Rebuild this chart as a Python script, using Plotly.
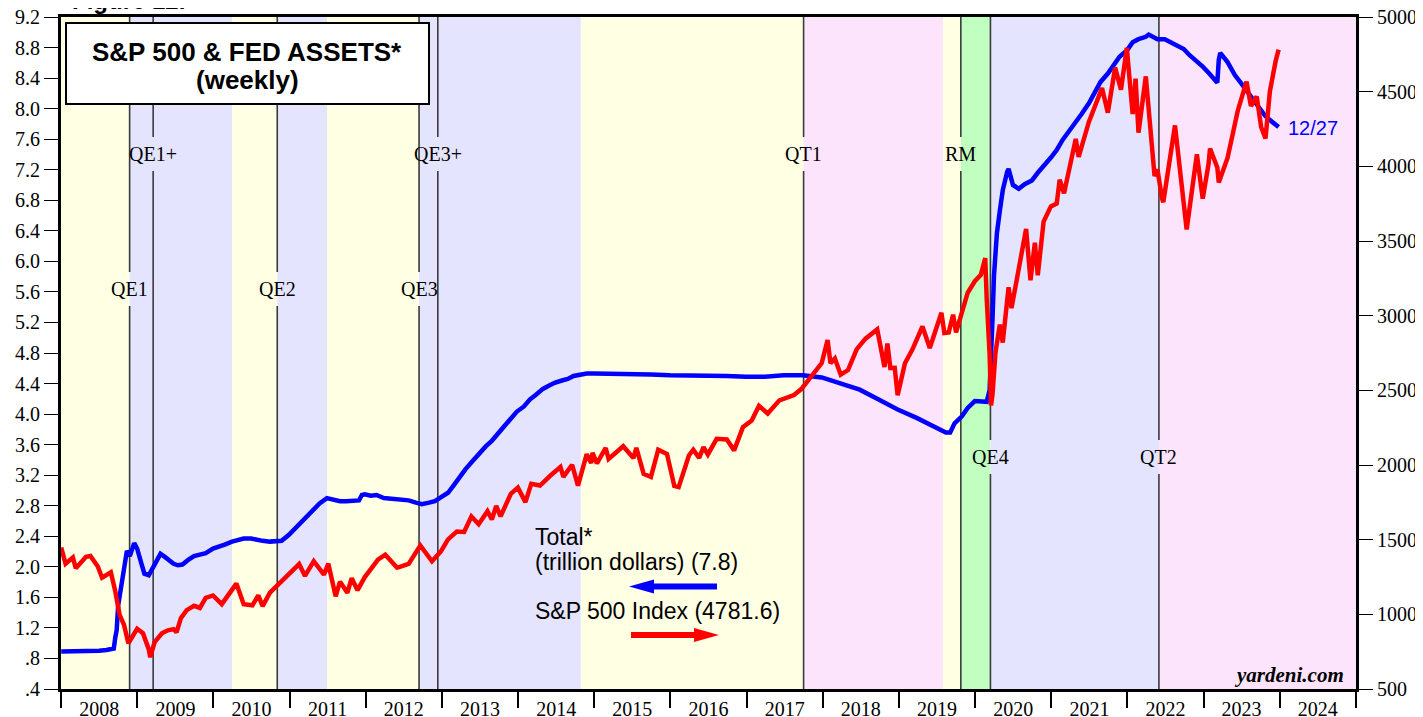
import plotly.graph_objects as go

# ---------------- DATA ----------------
fed_dates = [
    "2008-01-02", "2008-02-06", "2008-03-05", "2008-04-02", "2008-05-07", "2008-06-04", "2008-07-02",
    "2008-08-06", "2008-09-10", "2008-09-17", "2008-09-24", "2008-10-01", "2008-10-15", "2008-10-29",
    "2008-11-12", "2008-11-26", "2008-12-17", "2008-12-31",
    "2009-01-21", "2009-02-04", "2009-02-25", "2009-03-18", "2009-04-01", "2009-04-22", "2009-05-13",
    "2009-06-03", "2009-06-24", "2009-07-15", "2009-08-05", "2009-09-02", "2009-09-30", "2009-10-28",
    "2009-11-25", "2009-12-30",
    "2010-01-27", "2010-02-24", "2010-03-31", "2010-04-28", "2010-05-26", "2010-06-30", "2010-07-28",
    "2010-08-25", "2010-09-29", "2010-10-27", "2010-11-24", "2010-12-29",
    "2011-01-26", "2011-02-23", "2011-03-30", "2011-04-27", "2011-05-25", "2011-06-29", "2011-07-27",
    "2011-08-31", "2011-09-28", "2011-10-26", "2011-11-30", "2011-12-14", "2011-12-28",
    "2012-01-25", "2012-02-22", "2012-03-28", "2012-04-25", "2012-05-30", "2012-06-27", "2012-07-25",
    "2012-08-29", "2012-09-26", "2012-10-31", "2012-11-28", "2012-12-26",
    "2013-01-30", "2013-02-27", "2013-03-27", "2013-04-24", "2013-05-29", "2013-06-26", "2013-07-31",
    "2013-08-28", "2013-09-25", "2013-10-30", "2013-11-27", "2013-12-25",
    "2014-01-29", "2014-02-26", "2014-03-26", "2014-04-30", "2014-05-28", "2014-06-25", "2014-07-30",
    "2014-08-27", "2014-09-24", "2014-10-29", "2014-11-26", "2014-12-31",
    "2015-03-25", "2015-06-24", "2015-09-30", "2015-12-30",
    "2016-03-30", "2016-06-29", "2016-09-28", "2016-12-28",
    "2017-03-29", "2017-06-28", "2017-09-27", "2017-12-27",
    "2018-03-28", "2018-06-27", "2018-09-26", "2018-12-26",
    "2019-03-27", "2019-06-26", "2019-08-14", "2019-09-04", "2019-09-25", "2019-10-30", "2019-11-27",
    "2019-12-31",
    "2020-01-29", "2020-02-26", "2020-03-11", "2020-03-18", "2020-03-25", "2020-04-01", "2020-04-15",
    "2020-04-29", "2020-05-13", "2020-06-03", "2020-06-10", "2020-07-01", "2020-07-29", "2020-08-26",
    "2020-09-30", "2020-10-28", "2020-11-25", "2020-12-30",
    "2021-01-27", "2021-02-24", "2021-03-31", "2021-04-28", "2021-05-26", "2021-06-30", "2021-07-28",
    "2021-08-25", "2021-09-29", "2021-10-27", "2021-11-24", "2021-12-29",
    "2022-01-26", "2022-02-23", "2022-03-30", "2022-04-13", "2022-05-25", "2022-06-29", "2022-07-27",
    "2022-08-31", "2022-09-28", "2022-10-26", "2022-11-30", "2022-12-28",
    "2023-01-25", "2023-02-22", "2023-03-08", "2023-03-15", "2023-03-22", "2023-04-26", "2023-05-31",
    "2023-06-28", "2023-07-26", "2023-08-30", "2023-09-27", "2023-10-25", "2023-11-29", "2023-12-27",
]
fed_values = [
    0.89, 0.89, 0.89, 0.89, 0.89, 0.90, 0.90,
    0.91, 0.93, 1.07, 1.17, 1.49, 1.77, 1.97,
    2.21, 2.14, 2.31, 2.24,
    2.04, 1.91, 1.89, 1.99, 2.07, 2.17, 2.13,
    2.09, 2.04, 2.02, 2.03, 2.09, 2.14, 2.16,
    2.18, 2.24,
    2.26, 2.29, 2.33, 2.35, 2.37, 2.37, 2.35,
    2.34, 2.33, 2.33, 2.34, 2.42,
    2.50, 2.59, 2.68, 2.76, 2.83, 2.90, 2.88,
    2.86, 2.86, 2.86, 2.87, 2.94, 2.95,
    2.93, 2.94, 2.90, 2.89, 2.88, 2.88, 2.87,
    2.84, 2.82, 2.84, 2.86, 2.91,
    2.97, 3.07, 3.18, 3.28, 3.39, 3.48, 3.58,
    3.65, 3.74, 3.85, 3.93, 4.03,
    4.10, 4.19, 4.25, 4.33, 4.37, 4.41, 4.44,
    4.46, 4.50, 4.52, 4.53, 4.53,
    4.53, 4.52, 4.52, 4.51,
    4.51, 4.50, 4.50, 4.49,
    4.49, 4.51, 4.51, 4.48,
    4.40, 4.32, 4.19, 4.06,
    3.95, 3.83, 3.76, 3.76, 3.88, 3.97, 4.08,
    4.17,
    4.16, 4.16, 4.31, 4.67, 5.25, 5.81, 6.37,
    6.66, 6.93, 7.17, 7.21, 7.00, 6.95, 7.01,
    7.06, 7.16, 7.24, 7.36,
    7.46, 7.59, 7.72, 7.82, 7.93, 8.07, 8.22,
    8.35, 8.46, 8.56, 8.68, 8.76,
    8.87, 8.91, 8.94, 8.97, 8.91, 8.91, 8.87,
    8.83, 8.78, 8.70, 8.62, 8.55,
    8.47, 8.39, 8.34, 8.64, 8.73, 8.61, 8.44,
    8.34, 8.24, 8.12, 8.02, 7.90, 7.82, 7.76,
]

sp_dates = [
    "2008-01-02", "2008-01-23", "2008-02-27", "2008-03-12", "2008-04-30", "2008-05-21", "2008-06-25",
    "2008-07-16", "2008-08-27", "2008-09-17", "2008-10-08", "2008-10-29", "2008-11-19", "2008-12-31",
    "2009-01-28", "2009-02-25", "2009-03-04", "2009-03-25", "2009-04-29", "2009-05-27", "2009-06-24",
    "2009-07-08", "2009-07-29", "2009-08-26", "2009-09-30", "2009-10-28", "2009-11-25", "2009-12-30",
    "2010-02-10", "2010-03-31", "2010-04-21", "2010-05-26", "2010-07-07", "2010-08-04", "2010-08-25",
    "2010-09-29", "2010-10-27", "2010-12-29",
    "2011-02-16", "2011-03-16", "2011-04-27", "2011-06-15", "2011-07-06", "2011-08-10", "2011-08-31",
    "2011-10-05", "2011-10-26", "2011-11-23", "2011-12-28",
    "2012-02-29", "2012-04-04", "2012-05-30", "2012-06-06", "2012-07-25", "2012-09-19", "2012-11-14",
    "2012-12-26",
    "2013-01-30", "2013-03-13", "2013-04-17", "2013-05-22", "2013-06-26", "2013-08-07", "2013-08-28",
    "2013-09-18", "2013-10-09", "2013-11-27", "2013-12-31",
    "2014-02-05", "2014-03-05", "2014-04-16", "2014-06-04", "2014-07-23", "2014-08-06", "2014-09-17",
    "2014-10-15", "2014-11-26", "2014-12-17", "2014-12-24",
    "2015-01-14", "2015-02-25", "2015-03-11", "2015-05-20", "2015-07-08", "2015-07-22", "2015-08-26",
    "2015-09-30", "2015-11-04", "2015-12-16",
    "2016-01-20", "2016-02-10", "2016-03-30", "2016-04-20", "2016-05-18", "2016-06-08", "2016-06-29",
    "2016-08-10", "2016-09-28", "2016-11-02", "2016-12-14",
    "2017-01-25", "2017-03-01", "2017-04-12", "2017-06-07", "2017-08-16", "2017-09-20", "2017-11-08",
    "2017-12-27",
    "2018-01-24", "2018-02-07", "2018-02-28", "2018-03-28", "2018-05-02", "2018-06-13", "2018-07-25",
    "2018-09-19", "2018-10-24", "2018-11-07", "2018-11-21", "2018-12-12", "2018-12-26",
    "2019-01-30", "2019-03-06", "2019-04-24", "2019-05-29", "2019-07-24", "2019-08-07", "2019-08-28",
    "2019-09-18", "2019-10-02", "2019-11-27", "2019-12-31",
    "2020-01-29", "2020-02-19", "2020-02-26", "2020-03-11", "2020-03-18", "2020-03-25", "2020-04-08",
    "2020-04-29", "2020-05-13", "2020-06-10", "2020-06-24", "2020-07-22", "2020-09-02", "2020-09-23",
    "2020-10-14", "2020-10-28", "2020-11-25", "2020-12-30",
    "2021-01-27", "2021-02-10", "2021-03-03", "2021-04-28", "2021-05-12", "2021-06-30", "2021-07-28",
    "2021-09-01", "2021-09-29", "2021-11-03", "2021-12-01", "2021-12-29",
    "2022-01-26", "2022-02-09", "2022-02-23", "2022-03-30", "2022-05-11", "2022-05-25", "2022-06-15",
    "2022-06-22", "2022-08-17", "2022-09-28", "2022-10-12", "2022-11-30", "2022-12-28",
    "2023-01-25", "2023-02-01", "2023-03-08", "2023-03-15", "2023-04-26", "2023-06-14", "2023-07-26",
    "2023-08-16", "2023-09-13", "2023-10-04", "2023-10-25", "2023-11-15", "2023-12-13", "2023-12-27",
]
sp_values = [
    1447.2, 1338.6, 1380.0, 1308.8, 1385.6, 1390.7, 1322.0,
    1245.4, 1281.7, 1156.4, 996.2, 930.1, 806.6, 903.3,
    874.1, 764.9, 712.9, 813.9, 873.6, 893.1, 900.9,
    879.6, 975.2, 1028.1, 1057.1, 1042.6, 1110.6, 1126.4,
    1068.1, 1169.4, 1205.9, 1067.9, 1060.3, 1127.2, 1055.3,
    1144.7, 1182.5, 1259.8,
    1336.3, 1256.9, 1355.7, 1265.4, 1339.2, 1120.8, 1218.9,
    1144.0, 1242.0, 1161.8, 1249.6,
    1365.7, 1399.0, 1313.3, 1315.1, 1337.9, 1461.1, 1355.5,
    1419.8,
    1502.0, 1554.5, 1552.0, 1655.4, 1603.3, 1690.9, 1635.0,
    1725.5, 1656.4, 1807.2, 1848.4,
    1751.6, 1873.8, 1862.3, 1927.9, 1987.0, 1920.2, 2001.6,
    1862.5, 2072.8, 2012.9, 2081.9,
    2011.3, 2113.9, 2040.2, 2125.9, 2046.7, 2114.2, 1940.5,
    1920.0, 2102.3, 2073.1,
    1859.3, 1851.9, 2063.9, 2102.4, 2047.6, 2119.1, 2070.8,
    2175.5, 2171.4, 2097.9, 2253.3,
    2298.4, 2396.0, 2344.9, 2433.1, 2468.1, 2508.2, 2594.4,
    2682.6,
    2837.5, 2681.7, 2713.8, 2605.0, 2635.7, 2775.6, 2846.1,
    2908.0, 2656.1, 2813.9, 2649.9, 2651.1, 2467.7,
    2681.1, 2771.5, 2927.3, 2783.0, 3019.6, 2884.0, 2887.9,
    3006.7, 2887.6, 3153.6, 3230.8,
    3273.4, 3386.2, 3116.4, 2741.4, 2398.1, 2475.6, 2750.0,
    2939.5, 2820.0, 3190.1, 3050.3, 3276.0, 3580.8, 3236.9,
    3488.7, 3271.0, 3629.7, 3732.0,
    3750.8, 3909.9, 3819.7, 4183.2, 4063.0, 4297.5, 4400.6,
    4524.1, 4359.5, 4660.6, 4513.0, 4793.1,
    4349.9, 4587.2, 4225.5, 4602.5, 3935.2, 3978.7, 3790.0,
    3759.9, 4274.0, 3719.0, 3577.0, 4080.1, 3783.2,
    4016.2, 4119.2, 3992.0, 3891.9, 4056.0, 4372.6, 4566.8,
    4404.3, 4467.4, 4263.8, 4186.8, 4502.9, 4707.1, 4781.6,
]

# policy regimes (background shading)
region_starts = ["2008-01-01", "2008-11-25", "2010-04-01", "2010-11-03", "2011-06-30", "2012-09-13",
                 "2014-10-29", "2017-10-01", "2019-08-01", "2019-10-25", "2020-03-15", "2022-06-01"]
region_ends = ["2008-11-25", "2010-04-01", "2010-11-03", "2011-06-30", "2012-09-13", "2014-10-29",
               "2017-10-01", "2019-08-01", "2019-10-25", "2020-03-15", "2022-06-01", "2025-01-01"]
region_kinds = ["none", "qe", "none", "qe", "none", "qe", "none", "qt", "none", "rm", "qe", "qt"]

# policy events
event_names = ["QE1", "QE1+", "QE2", "QE3", "QE3+", "QT1", "RM", "QE4", "QT2"]
event_dates = ["2008-11-25", "2009-03-18", "2010-11-03", "2012-09-13", "2012-12-12",
               "2017-10-01", "2019-10-25", "2020-03-15", "2022-06-01"]

left_ticks = [round(0.4 + 0.4 * i, 1) for i in range(23)]
right_ticks = list(range(500, 5001, 500))

fed_last = 7.8
sp_last = 4781.6
last_date_label = "12/27"

# ---------------- LAYOUT HELPERS ----------------
# page offset of the plot div (default body margin) is compensated here
OFF = 8
SW, SH = 1423, 717                 # screen size
PL, PT, PR, PB = 61, 17, 1356, 689  # plot area in screen pixels
FW, FH = SW - OFF, SH - OFF
PW, PH = PR - PL, PB - PT


def px(x):
    return (x - PL) / PW


def py(y):
    return (PB - y) / PH


kind_color = {"none": "#FFFFE4", "qe": "#E4E4FF", "qt": "#FDE4FD", "rm": "#C0FFC0"}
event_label_y = {"QE1": 289, "QE1+": 154, "QE2": 289, "QE3": 289, "QE3+": 154,
                 "QT1": 154, "RM": 154, "QE4": 457, "QT2": 457}

shapes = []
for s, e, k in zip(region_starts, region_ends, region_kinds):
    shapes.append(dict(type="rect", xref="x", yref="paper", x0=s, x1=e, y0=0, y1=1,
                       fillcolor=kind_color[k], line=dict(width=0), layer="below"))

annotations = []
gap = 17
for name, d in zip(event_names, event_dates):
    ly = event_label_y[name]
    for (a, b) in [(PB, ly + gap), (ly - gap, PT)]:
        shapes.append(dict(type="line", xref="x", yref="paper", x0=d, x1=d, y0=py(a), y1=py(b),
                           line=dict(color="#3a3a3a", width=1.6), layer="below"))
    annotations.append(dict(x=d, y=py(ly), xref="x", yref="paper", text=name, showarrow=False,
                            font=dict(family="Liberation Serif", size=20, color="black"),
                            xanchor="center", yanchor="middle"))

# title box
shapes.append(dict(type="rect", xref="paper", yref="paper", x0=px(66), x1=px(429), y0=py(104), y1=py(23),
                   fillcolor="white", line=dict(color="black", width=2), layer="above"))
title_font = dict(family="Liberation Sans", size=26, color="black")
annotations.append(dict(x=px(247), y=py(52), xref="paper", yref="paper", text="<b>S&P 500 & FED ASSETS*</b>",
                        showarrow=False, xanchor="center", yanchor="middle", font=title_font))
annotations.append(dict(x=px(247), y=py(80), xref="paper", yref="paper", text="<b>(weekly)</b>",
                        showarrow=False, xanchor="center", yanchor="middle", font=title_font))
annotations.append(dict(x=px(70), y=py(16), xref="paper", yref="paper", text="<b>Figure 12.</b>",
                        showarrow=False, xanchor="left", yanchor="bottom",
                        font=dict(family="Liberation Sans", size=24, color="black")))

# legend texts
leg_font = dict(family="Liberation Sans", size=23, color="black")
for txt, yy in [("Total*", 537), (f"(trillion dollars) ({fed_last:.1f})", 562),
                (f"S&P 500 Index ({sp_last:.1f})", 611)]:
    annotations.append(dict(x=px(533), y=py(yy), xref="paper", yref="paper", text=txt,
                            showarrow=False, xanchor="left", yanchor="middle", font=leg_font))
# legend arrows
by, ry = 586.5, 635
shapes.append(dict(type="line", xref="paper", yref="paper", x0=px(648), x1=px(717), y0=py(by), y1=py(by),
                   line=dict(color="#0000FF", width=6)))
shapes.append(dict(type="path", xref="paper", yref="paper",
                   path=f"M {px(629)},{py(by)} L {px(654)},{py(by - 7)} L {px(654)},{py(by + 7)} Z",
                   fillcolor="#0000FF", line=dict(width=0)))
shapes.append(dict(type="line", xref="paper", yref="paper", x0=px(631), x1=px(700), y0=py(ry), y1=py(ry),
                   line=dict(color="#FF0000", width=6)))
shapes.append(dict(type="path", xref="paper", yref="paper",
                   path=f"M {px(719)},{py(ry)} L {px(694)},{py(ry - 7)} L {px(694)},{py(ry + 7)} Z",
                   fillcolor="#FF0000", line=dict(width=0)))

# last date label
annotations.append(dict(x=px(1286), y=py(128), xref="paper", yref="paper", text=last_date_label,
                        showarrow=False, xanchor="left", yanchor="middle",
                        font=dict(family="Liberation Sans", size=20, color="#0000FF")))
# source
annotations.append(dict(x=px(1346), y=py(675), xref="paper", yref="paper", text="<b><i>yardeni.com</i></b>",
                        showarrow=False, xanchor="right", yanchor="middle",
                        font=dict(family="Liberation Serif", size=21, color="black")))

# ---------------- FIGURE ----------------
fig = go.Figure()
fig.add_trace(go.Scatter(x=fed_dates, y=fed_values, mode="lines", yaxis="y",
                         line=dict(color="#0000FF", width=4.5), name="Fed assets"))
fig.add_trace(go.Scatter(x=sp_dates, y=sp_values, mode="lines", yaxis="y2",
                         line=dict(color="#FF0000", width=4.5), name="S&P 500"))

tick_font = dict(family="Liberation Serif", size=20, color="black")


def fmt(v):
    s = f"{v:.1f}"
    return s[1:] if s.startswith("0") else s


fig.update_layout(
    width=FW, height=FH,
    margin=dict(l=PL - OFF, r=SW - PR, t=PT - OFF, b=SH - PB, pad=0, autoexpand=False),
    paper_bgcolor="white", plot_bgcolor="white",
    showlegend=False,
    shapes=shapes, annotations=annotations,
    xaxis=dict(type="date", range=["2008-01-01", "2025-01-01"], showgrid=False, zeroline=False,
               ticks="outside", ticklen=16, tickwidth=2, tickcolor="black", automargin=False,
               dtick="M12", tick0="2008-01-01", tickformat="%Y", ticklabelmode="period",
               ticklabelstandoff=-16, ticklabeloverflow="allow",
               showline=True, linewidth=3, linecolor="black", mirror=True, tickfont=tick_font),
    yaxis=dict(range=[0.4, 9.2], tickvals=left_ticks, ticktext=[fmt(v) for v in left_ticks],
               showgrid=False, zeroline=False, ticks="outside", ticklen=14, tickwidth=1.3,
               tickcolor="black", showline=True, linewidth=3, linecolor="black", mirror=True,
               tickfont=tick_font, automargin=False, ticklabeloverflow="allow"),
    yaxis2=dict(range=[500, 5000], tickvals=right_ticks, ticktext=[str(v) for v in right_ticks],
                overlaying="y", side="right", showgrid=False, zeroline=False, ticks="outside",
                ticklen=14, tickwidth=1.3, tickcolor="black", showline=True, linewidth=3,
                linecolor="black", tickfont=tick_font, automargin=False, ticklabeloverflow="allow"),
)

fig.write_html("out.html")
